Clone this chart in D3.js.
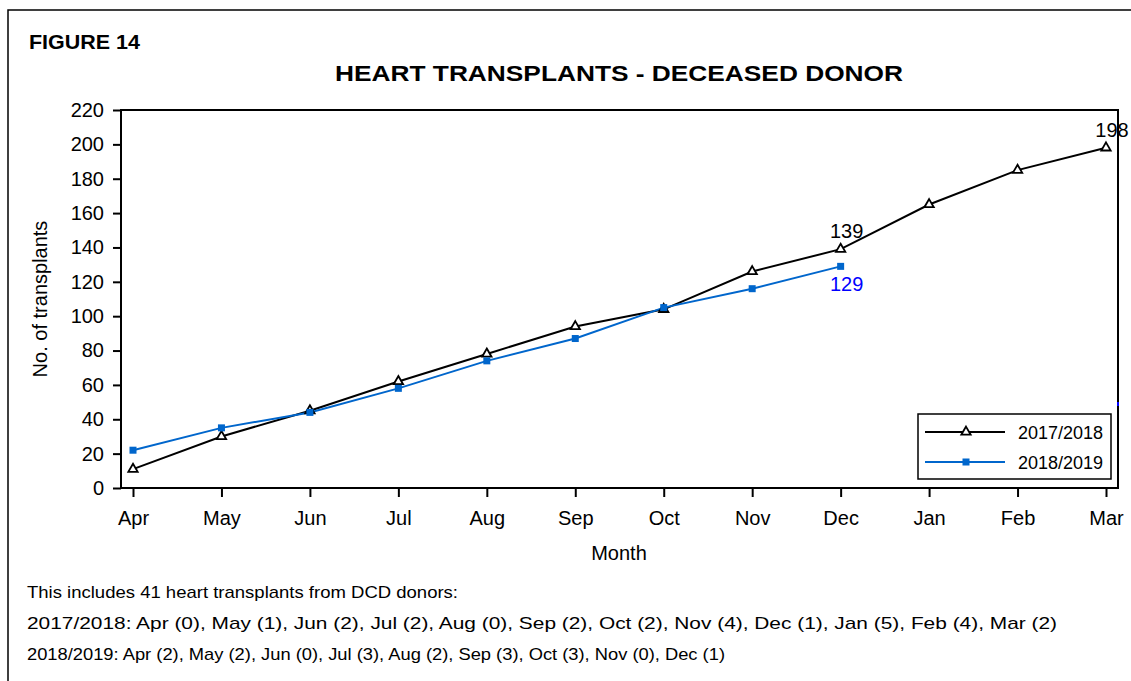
<!DOCTYPE html>
<html><head><meta charset="utf-8">
<script src="https://cdn.jsdelivr.net/npm/d3@7"></script>
<style>body{margin:0;background:#fff}svg{display:block;font-family:"Liberation Sans",Arial,sans-serif}</style>
</head><body><svg id="c" width="1131" height="681"></svg>
<script>
const months = ["Apr","May","Jun","Jul","Aug","Sep","Oct","Nov","Dec","Jan","Feb","Mar"];
const series1Name = "2017/2018";
const series1 = [11,30,45,62,78,94,104,126,139,165,185,198];
const series2Name = "2018/2019";
const series2 = [22,35,44,58,74,87,105,116,129];
const yTicks = [0,20,40,60,80,100,120,140,160,180,200,220];
const labels1 = [{i:8,v:139},{i:11,v:198}];
const labels2 = [{i:8,v:129}];
const footnotes = [
  "This includes 41 heart transplants from DCD donors:",
  "2017/2018: Apr (0), May (1), Jun (2), Jul (2), Aug (0), Sep (2), Oct (2), Nov (4), Dec (1), Jan (5), Feb (4), Mar (2)",
  "2018/2019: Apr (2), May (2), Jun (0), Jul (3), Aug (2), Sep (3), Oct (3), Nov (0), Dec (1)"
];

const svg = d3.select("#c");
const L=121, R=1118, T=110, B=488;
const x = d3.scalePoint().domain(months).range([133,1106]);
const y = d3.scaleLinear().domain([0,220]).range([B,T]);
const black="#000", blue="#0066cc";

// outer frame (extends beyond)
svg.append("rect").attr("x",8).attr("y",10).attr("width",1300).attr("height",800)
  .attr("fill","none").attr("stroke","#000").attr("stroke-width",1.5);

svg.append("text").attr("x",29).attr("y",49).attr("font-size",21).attr("font-weight","bold")
  .attr("textLength",111).attr("lengthAdjust","spacingAndGlyphs").text("FIGURE 14");
svg.append("text").attr("x",619).attr("y",81).attr("text-anchor","middle").attr("font-size",22)
  .attr("font-weight","bold").attr("textLength",568).attr("lengthAdjust","spacingAndGlyphs")
  .text("HEART TRANSPLANTS - DECEASED DONOR");

// plot box
svg.append("rect").attr("x",L).attr("y",T).attr("width",R-L).attr("height",B-T)
  .attr("fill","none").attr("stroke","#000").attr("stroke-width",2);

// axes
const ya = svg.append("g").attr("transform",`translate(${L},0)`)
  .call(d3.axisLeft(y).tickValues(yTicks).tickSize(8).tickPadding(9));
const xa = svg.append("g").attr("transform",`translate(0,${B})`)
  .call(d3.axisBottom(x).tickSize(9).tickPadding(14));
[ya,xa].forEach(a=>{
  a.select(".domain").remove();
  a.selectAll(".tick line").attr("stroke","#000").attr("stroke-width",2);
  a.selectAll(".tick text").attr("font-size",20).attr("fill","#000").attr("font-family","Liberation Sans, Arial, sans-serif");
});

svg.append("text").attr("transform","translate(47,299) rotate(-90)").attr("text-anchor","middle")
  .attr("font-size",20).text("No. of transplants");
svg.append("text").attr("x",619).attr("y",560).attr("text-anchor","middle").attr("font-size",20).text("Month");

// lines
const line = d3.line().x((d,i)=>x(months[i])).y(d=>y(d));
svg.append("path").datum(series1).attr("d",line).attr("fill","none").attr("stroke",black).attr("stroke-width",2);
svg.append("path").datum(series2).attr("d",line).attr("fill","none").attr("stroke",blue).attr("stroke-width",2);

const tri = d3.symbol().type(d3.symbolTriangle).size(38);
svg.selectAll(".m1").data(series1).enter().append("path")
  .attr("d",tri).attr("transform",(d,i)=>`translate(${x(months[i])},${y(d)})`)
  .attr("fill","#fff").attr("stroke",black).attr("stroke-width",1.8);
svg.selectAll(".m2").data(series2).enter().append("rect")
  .attr("x",(d,i)=>x(months[i])-3.5).attr("y",d=>y(d)-3.5).attr("width",7).attr("height",7).attr("fill",blue);

labels1.forEach(l=>svg.append("text").attr("x",x(months[l.i])+6).attr("y",y(l.v)-11)
  .attr("text-anchor","middle").attr("font-size",20).attr("fill","#000").text(l.v));
labels2.forEach(l=>svg.append("text").attr("x",x(months[l.i])+6).attr("y",y(l.v)+25)
  .attr("text-anchor","middle").attr("font-size",20).attr("fill","#0000ff").text(l.v));

// small stray blue mark at right edge
svg.append("line").attr("x1",R).attr("x2",R).attr("y1",402).attr("y2",406).attr("stroke","#0000ff").attr("stroke-width",2);

// legend
const lg = svg.append("g");
lg.append("rect").attr("x",918).attr("y",414).attr("width",193).attr("height",65)
  .attr("fill","#fff").attr("stroke","#000").attr("stroke-width",1.5);
[[series1Name,black,"tri",432],[series2Name,blue,"sq",462]].forEach(([n,c,m,yy])=>{
  lg.append("line").attr("x1",925).attr("x2",1005).attr("y1",yy).attr("y2",yy).attr("stroke",c).attr("stroke-width",2);
  if(m==="tri") lg.append("path").attr("d",tri).attr("transform",`translate(966,${yy})`).attr("fill","#fff").attr("stroke",c).attr("stroke-width",1.8);
  else lg.append("rect").attr("x",962.5).attr("y",yy-3.5).attr("width",7).attr("height",7).attr("fill",c);
  lg.append("text").attr("x",1018).attr("y",yy+6.5).attr("font-size",18).text(n);
});

// footnotes
const fw = [431,1030,698];
footnotes.forEach((t,i)=>svg.append("text").attr("x",27).attr("y",598+i*31).attr("font-size",17)
  .attr("textLength",fw[i]).attr("lengthAdjust","spacingAndGlyphs").text(t));
</script></body></html>
